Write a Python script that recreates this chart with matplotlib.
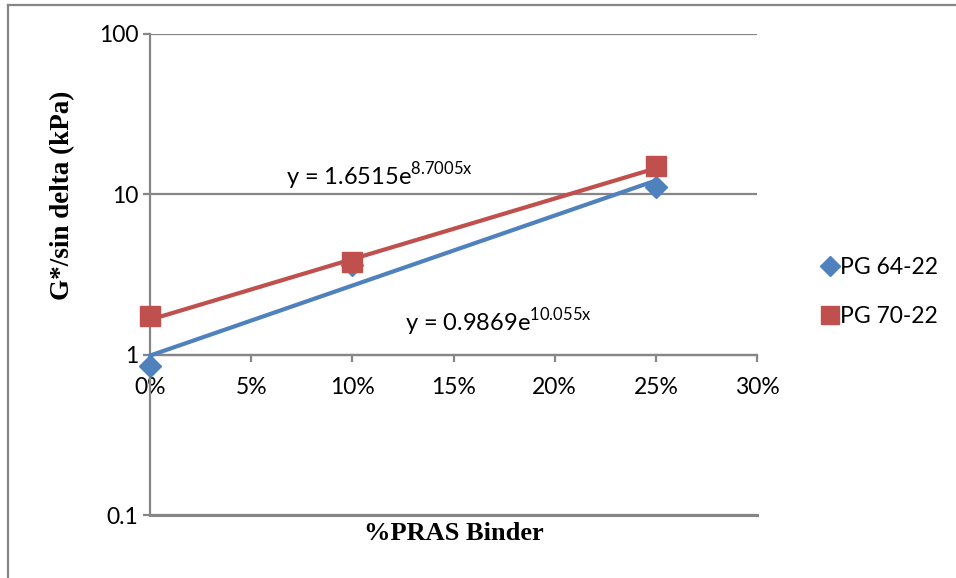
import numpy as np
import matplotlib.pyplot as plt
from matplotlib.lines import Line2D
from matplotlib.ticker import PercentFormatter, FixedLocator, NullLocator

plt.rcParams['font.family'] = ['Lato', 'DejaVu Sans']
plt.rcParams['mathtext.fontset'] = 'custom'
plt.rcParams['mathtext.rm'] = 'Lato'

# binder content and G*/sin(delta) readings
pras = [0.0, 0.10, 0.25]
pg6422 = [0.85, 3.6, 11.1]
pg7022 = [1.73, 3.8, 15.1]

# exponential trend fits (a * exp(b*x))
fit6422 = (0.9869, 10.055)
fit7022 = (1.6515, 8.7005)

blue = '#4F81BD'
red = '#C0504D'
gray = '#868686'

fig = plt.figure(figsize=(9.56, 5.78), dpi=100)
ax = fig.add_axes([150/956, 1-515/578, 607/956, 481/578])

xs = np.linspace(0, 0.25, 50)
ax.plot(xs, fit6422[0]*np.exp(fit6422[1]*xs), color=blue, lw=3, zorder=3, clip_on=False)
ax.plot(xs, fit7022[0]*np.exp(fit7022[1]*xs), color=red, lw=3, zorder=3, clip_on=False)
ax.plot(pras, pg6422, 'D', color=blue, ms=11, ls='none', label='PG 64-22',
        zorder=4, clip_on=False)
ax.plot(pras, pg7022, 's', color=red, ms=14, ls='none', label='PG 70-22',
        zorder=5, clip_on=False)

ax.set_yscale('log')
ax.set_ylim(0.1, 100)
ax.set_xlim(0, 0.3)
ax.yaxis.set_major_locator(FixedLocator([0.1, 1, 10, 100]))
ax.yaxis.set_minor_locator(NullLocator())
ax.set_yticklabels(['0.1', '1', '10', '100'])
ax.set_xticks([0, 0.05, 0.10, 0.15, 0.20, 0.25, 0.30])
ax.xaxis.set_major_formatter(PercentFormatter(1.0, decimals=0))

# x axis crosses at y = 1
ax.spines['bottom'].set_position(('data', 1))
ax.spines['top'].set_visible(False)
ax.spines['right'].set_visible(False)
for s in ['bottom', 'left']:
    ax.spines[s].set_color(gray)
    ax.spines[s].set_linewidth(1.6)
ax.tick_params(axis='both', colors=gray, labelcolor='black', labelsize=16.5,
               width=1.6, length=5, direction='out')
ax.tick_params(axis='x', pad=11)
ax.grid(axis='y', color=gray, lw=1.6)
ax.axhline(0.1, color=gray, lw=2.2, clip_on=False)
ax.set_axisbelow(True)

ax.text(0.067, 10.3, r'y = 1.6515e$^{\mathregular{8.7005x}}$', fontsize=17,
        ha='left', va='bottom')
ax.text(0.126, 1.6, r'y = 0.9869e$^{\mathregular{10.055x}}$', fontsize=17,
        ha='left', va='center')

ax.set_ylabel('G*/sin delta (kPa)', family='Liberation Serif', fontweight='bold',
              fontsize=19.5)
ax.yaxis.set_label_coords(-0.124, 0.665)
fig.text(454/956, 1-533/578, '%PRAS Binder', family='Liberation Serif',
         fontweight='bold', fontsize=19, ha='center', va='center')

fig.legend(loc='center left', bbox_to_anchor=(802/956, 1-292/578), frameon=False,
           fontsize=16.5, handlelength=0.6, handletextpad=0.15, labelspacing=1.25,
           markerscale=0.9)

# outer chart frame
fig.add_artist(Line2D([8/956, 1], [1-5/578, 1-5/578], color=gray, lw=1.6))
fig.add_artist(Line2D([8/956, 8/956], [0, 1-5/578], color=gray, lw=1.6))

fig.savefig('out.png', dpi=100)
